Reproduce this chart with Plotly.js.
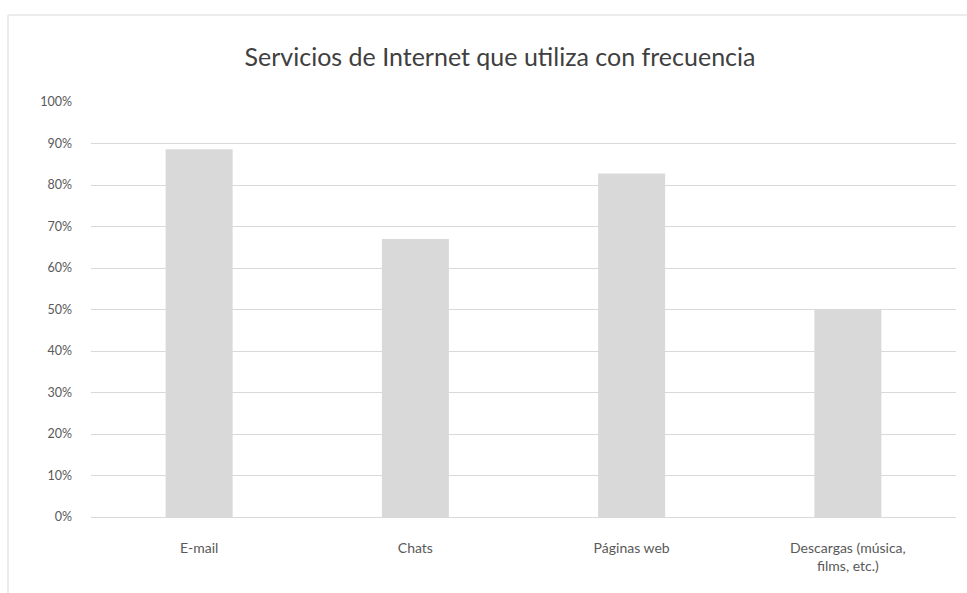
<!DOCTYPE html>
<html>
<head>
<meta charset="utf-8">
<script src="https://cdn.plot.ly/plotly-3.0.1.min.js"></script>
<style>
  html, body { margin: 0; padding: 0; background: #ffffff; }
  #chart { width: 967px; height: 593px; }
</style>
</head>
<body>
<div id="chart"></div>
<script>
const categories = ["E-mail", "Chats", "Páginas web", "Descargas (música,<br>films, etc.)"];
const values = [0.886, 0.67, 0.828, 0.50];
const tickValues = [0, 0.1, 0.2, 0.3, 0.4, 0.5, 0.6, 0.7, 0.8, 0.9, 1.0];
const tickLabels = ["0%", "10%", "20%", "30%", "40%", "50%", "60%", "70%", "80%", "90%", "100%"];
const chartTitle = "Servicios de Internet que utiliza con frecuencia";

const W = 967, H = 593;
const m = { l: 91, r: 11, t: 102, b: 76 };
const pw = W - m.l - m.r, ph = H - m.t - m.b;
function px(x) { return (x - m.l) / pw; }
function py(y) { return (H - m.b - y) / ph; }

const trace = {
  type: "bar",
  x: categories,
  y: values,
  marker: { color: "#d9d9d9", line: { width: 0 } },
  hoverinfo: "skip"
};

const layout = {
  width: W,
  height: H,
  margin: m,
  paper_bgcolor: "#ffffff",
  plot_bgcolor: "#ffffff",
  showlegend: false,
  bargap: 0.69,
  font: { family: "Lato, 'Open Sans', sans-serif", color: "#595959", size: 12 },
  title: {
    text: chartTitle,
    x: 500 / W, xanchor: "center", xref: "container",
    y: 1 - 57 / H, yref: "container", yanchor: "middle",
    font: { family: "Lato, 'Open Sans', sans-serif", size: 25, color: "#404040" }
  },
  xaxis: {
    type: "category",
    showgrid: false,
    showline: true,
    linecolor: "#d9d9d9",
    linewidth: 1,
    ticks: "",
    tickfont: { size: 14, color: "#595959" },
    ticklabelstandoff: 18,
    fixedrange: true
  },
  yaxis: {
    range: [0, 1.0],
    tickvals: tickValues,
    ticktext: tickLabels,
    showgrid: true,
    gridcolor: "#d9d9d9",
    gridwidth: 1,
    zeroline: false,
    showline: false,
    ticks: "",
    ticklabelstandoff: 18,
    tickfont: { size: 12.5, color: "#595959" },
    fixedrange: true
  },
  shapes: [
    {
      type: "rect", xref: "paper", yref: "paper",
      x0: px(8), x1: px(980), y0: py(605), y1: py(15),
      line: { color: "#d9d9d9", width: 1 }, fillcolor: "rgba(0,0,0,0)", layer: "below"
    }
  ]
};

Plotly.newPlot("chart", [trace], layout, { displayModeBar: false, staticPlot: true });
</script>
</body>
</html>
